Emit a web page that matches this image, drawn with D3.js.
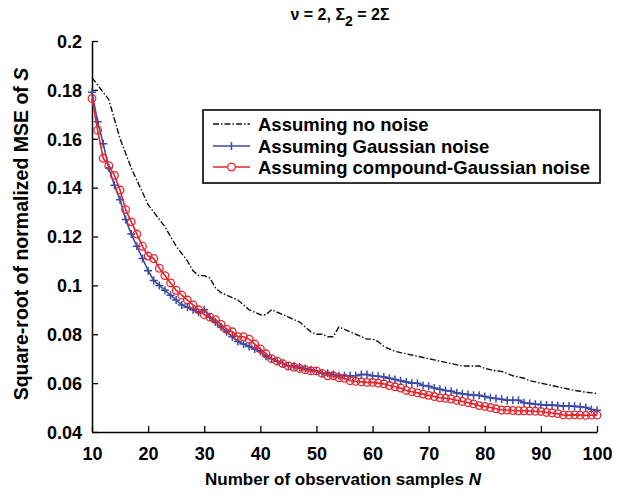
<!DOCTYPE html>
<meta charset="utf-8">
<script src="https://d3js.org/d3.v7.min.js"></script>
<style>
  body { margin: 0; background: #fff; }
  text { font-family: "Liberation Sans", Arial, sans-serif; font-weight: bold; }
</style>
<div id="my_dataviz"></div>
<script>

// number of observation samples N
var sampleN = d3.range(10, 101);

// square-root of normalized MSE, one value per N
var noNoise = [0.185, 0.182, 0.179, 0.176, 0.168, 0.160, 0.154, 0.148, 0.143, 0.138,
  0.133, 0.130, 0.127, 0.124, 0.120, 0.116, 0.113, 0.110, 0.106, 0.104,
  0.104, 0.103, 0.099, 0.097, 0.096, 0.095, 0.094, 0.092, 0.090, 0.089,
  0.088, 0.088, 0.090, 0.089, 0.088, 0.087, 0.086, 0.085, 0.083, 0.081,
  0.080, 0.080, 0.079, 0.079, 0.083, 0.082, 0.081, 0.080, 0.079, 0.078,
  0.078, 0.077, 0.075, 0.074, 0.073, 0.0725, 0.072, 0.0715, 0.071, 0.0705,
  0.070, 0.0695, 0.069, 0.0685, 0.068, 0.0675, 0.067, 0.067, 0.067, 0.067,
  0.066, 0.0655, 0.065, 0.0648, 0.064, 0.063, 0.0625, 0.062, 0.061, 0.0605,
  0.060, 0.0595, 0.059, 0.0585, 0.058, 0.0575, 0.057, 0.0567, 0.0563, 0.056,
  0.0558];

var gaussNoise = [0.179, 0.167, 0.158, 0.148, 0.141, 0.135, 0.127, 0.121, 0.116, 0.111,
  0.106, 0.102, 0.100, 0.098, 0.096, 0.094, 0.092, 0.091, 0.090, 0.089,
  0.090, 0.087, 0.085, 0.083, 0.081, 0.079, 0.077, 0.076, 0.075, 0.074,
  0.073, 0.071, 0.070, 0.069, 0.068, 0.067, 0.067, 0.0665, 0.066, 0.0655,
  0.065, 0.064, 0.064, 0.0635, 0.063, 0.063, 0.063, 0.063, 0.0635, 0.0635,
  0.063, 0.0628, 0.0625, 0.062, 0.0615, 0.061, 0.0605, 0.060, 0.060, 0.059,
  0.0587, 0.058, 0.0575, 0.057, 0.0567, 0.056, 0.0557, 0.0553, 0.055, 0.055,
  0.0545, 0.054, 0.0537, 0.0534, 0.053, 0.053, 0.053, 0.052, 0.0517, 0.0514,
  0.0512, 0.051, 0.051, 0.0508, 0.0506, 0.0506, 0.0505, 0.0503, 0.050, 0.0492,
  0.0489];

var compoundNoise = [0.1765, 0.1635, 0.152, 0.149, 0.145, 0.139, 0.131, 0.126, 0.121, 0.116,
  0.112, 0.111, 0.107, 0.104, 0.101, 0.098, 0.096, 0.094, 0.092, 0.090,
  0.088, 0.087, 0.086, 0.084, 0.082, 0.081, 0.079, 0.079, 0.078, 0.076,
  0.074, 0.072, 0.070, 0.069, 0.068, 0.067, 0.0665, 0.066, 0.0655, 0.065,
  0.065, 0.064, 0.063, 0.063, 0.0622, 0.062, 0.061, 0.0607, 0.0605, 0.0603,
  0.0603, 0.060, 0.0597, 0.059, 0.0585, 0.058, 0.057, 0.0565, 0.056, 0.0555,
  0.055, 0.0545, 0.054, 0.0538, 0.0535, 0.053, 0.0525, 0.052, 0.0515, 0.0508,
  0.0505, 0.050, 0.0495, 0.049, 0.049, 0.0488, 0.0487, 0.0487, 0.0486, 0.0485,
  0.0484, 0.048, 0.0478, 0.0475, 0.047, 0.0469, 0.047, 0.0469, 0.0468, 0.0469,
  0.0469];

var xTicks = [10, 20, 30, 40, 50, 60, 70, 80, 90, 100];
var yTicks = [0.04, 0.06, 0.08, 0.1, 0.12, 0.14, 0.16, 0.18, 0.2];
var legendLabels = ["Assuming no noise", "Assuming Gaussian noise", "Assuming compound-Gaussian noise"];

var blue = "#3a4aa6", red = "#e5262c";

var width = 619, height = 499;

var svg = d3.select("#my_dataviz")
  .append("svg")
    .attr("width", width)
    .attr("height", height);

var x = d3.scaleLinear().domain([10, 100]).range([92, 597]);
var y = d3.scaleLinear().domain([0.04, 0.2]).range([432, 41]);

// axes, ticks pointing inward
var xAxis = svg.append("g")
  .attr("transform", "translate(0," + y(0.04) + ")")
  .call(d3.axisBottom(x).tickValues(xTicks).tickSizeInner(-6).tickSizeOuter(0).tickPadding(15)
    .tickFormat(d3.format("d")));
var yAxis = svg.append("g")
  .attr("transform", "translate(" + x(10) + ",0)")
  .call(d3.axisLeft(y).tickValues(yTicks).tickSizeInner(-6).tickSizeOuter(0).tickPadding(10)
    .tickFormat(function(d) { return d3.format("")(+d.toFixed(2)); }));

svg.selectAll(".domain").attr("stroke", "#000").attr("stroke-width", 1.5);
svg.selectAll(".tick line").attr("stroke", "#000").attr("stroke-width", 1.3);
svg.selectAll(".tick text")
  .attr("fill", "#000")
  .style("font-size", "18px")
  .style("font-weight", "bold")
  .style("font-family", "Liberation Sans, Arial, sans-serif");
yAxis.selectAll(".tick text").attr("dy", "0.35em");

var line = function(vals) {
  return d3.line()
    .x(function(d, i) { return x(sampleN[i]); })
    .y(function(d) { return y(d); })(vals);
};

// no noise: dash-dot black
svg.append("path")
  .attr("d", line(noNoise))
  .attr("fill", "none")
  .attr("stroke", "#111")
  .attr("stroke-width", 1.4)
  .attr("stroke-dasharray", "6,2,1.5,2");

// Gaussian: blue with + markers
svg.append("path")
  .attr("d", line(gaussNoise))
  .attr("fill", "none")
  .attr("stroke", blue)
  .attr("stroke-width", 1.6);
svg.append("g").selectAll("path")
  .data(gaussNoise)
  .enter()
  .append("path")
    .attr("d", function(d, i) {
      var cx = x(sampleN[i]), cy = y(d), s = 4;
      return "M" + (cx - s) + "," + cy + "H" + (cx + s) + "M" + cx + "," + (cy - s) + "V" + (cy + s);
    })
    .attr("stroke", blue)
    .attr("stroke-width", 1.5);

// compound-Gaussian: red with circle markers
svg.append("path")
  .attr("d", line(compoundNoise))
  .attr("fill", "none")
  .attr("stroke", red)
  .attr("stroke-width", 1.6);
svg.append("g").selectAll("circle")
  .data(compoundNoise)
  .enter()
  .append("circle")
    .attr("cx", function(d, i) { return x(sampleN[i]); })
    .attr("cy", function(d) { return y(d); })
    .attr("r", 3.8)
    .attr("fill", "none")
    .attr("stroke", red)
    .attr("stroke-width", 1.3);

// legend
var legend = svg.append("g");
legend.append("rect")
  .attr("x", 203).attr("y", 110)
  .attr("width", 397).attr("height", 73)
  .attr("fill", "#fff")
  .attr("stroke", "#000")
  .attr("stroke-width", 1.6);
var rowY = [124, 146, 167];
legend.append("line").attr("x1", 213).attr("x2", 250).attr("y1", rowY[0]).attr("y2", rowY[0])
  .attr("stroke", "#111").attr("stroke-width", 1.4).attr("stroke-dasharray", "6,2,1.5,2");
legend.append("line").attr("x1", 213).attr("x2", 250).attr("y1", rowY[1]).attr("y2", rowY[1])
  .attr("stroke", blue).attr("stroke-width", 1.6);
legend.append("path")
  .attr("d", "M231.5," + (rowY[1] - 4) + "V" + (rowY[1] + 4))
  .attr("stroke", blue).attr("stroke-width", 1.5);
legend.append("line").attr("x1", 213).attr("x2", 250).attr("y1", rowY[2]).attr("y2", rowY[2])
  .attr("stroke", red).attr("stroke-width", 1.6);
legend.append("circle").attr("cx", 231.5).attr("cy", rowY[2]).attr("r", 3.8)
  .attr("fill", "#fff").attr("stroke", red).attr("stroke-width", 1.3);
legend.selectAll("text.lbl")
  .data(legendLabels)
  .enter()
  .append("text")
    .attr("class", "lbl")
    .attr("x", 258)
    .attr("y", function(d, i) { return rowY[i]; })
    .attr("dy", "0.36em")
    .style("font-size", "18.5px")
    .text(function(d) { return d; });

// title
var title = svg.append("text")
  .attr("x", 340).attr("y", 20)
  .attr("text-anchor", "middle")
  .style("font-size", "16px");
title.append("tspan").text("\u03bd = 2, \u03a3");
title.append("tspan").attr("dy", 6).style("font-size", "14px").text("2");
title.append("tspan").attr("dy", -6).text(" = 2\u03a3");

// axis titles
var xl = svg.append("text")
  .attr("x", 343).attr("y", 485)
  .attr("text-anchor", "middle")
  .style("font-size", "17px");
xl.append("tspan").text("Number of observation samples  ");
xl.append("tspan").style("font-style", "italic").text("N");

var yl = svg.append("text")
  .attr("transform", "translate(28,234) rotate(-90)")
  .attr("text-anchor", "middle")
  .style("font-size", "19.5px");
yl.append("tspan").text("Square-root of normalized MSE of  ");
yl.append("tspan").style("font-style", "italic").text("S");

</script>
